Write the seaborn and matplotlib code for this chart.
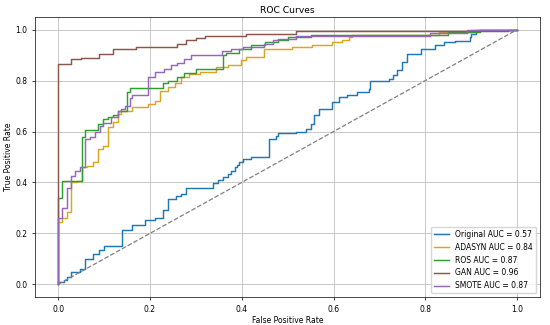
import matplotlib
matplotlib.use("Agg")
import matplotlib.pyplot as plt
import seaborn as sns
import pandas as pd

# ---- data (step ROC corners) ----
orig_fpr = [0, 0, 0.012, 0.019, 0.027, 0.048, 0.059, 0.077, 0.09, 0.10, 0.14, 0.16, 0.19, 0.21,
            0.228, 0.239, 0.257, 0.268, 0.279, 0.337, 0.348, 0.36, 0.37, 0.377, 0.385, 0.39,
            0.395, 0.402, 0.42, 0.46, 0.474, 0.48, 0.518, 0.54, 0.55, 0.557, 0.568, 0.597,
            0.612, 0.63, 0.65, 0.677, 0.68, 0.72, 0.73, 0.738, 0.749, 0.76, 0.79, 0.82, 0.84,
            0.865, 0.897, 0.90, 0.91, 1.0]
orig_tpr = [0, 0.01, 0.015, 0.03, 0.05, 0.06, 0.10, 0.118, 0.135, 0.152, 0.213, 0.232, 0.253, 0.262,
            0.29, 0.335, 0.345, 0.355, 0.38, 0.398, 0.41, 0.42, 0.435, 0.445, 0.46, 0.47,
            0.479, 0.492, 0.50, 0.571, 0.584, 0.595, 0.60, 0.61, 0.63, 0.663, 0.689, 0.715,
            0.735, 0.745, 0.755, 0.768, 0.80, 0.807, 0.82, 0.84, 0.873, 0.906, 0.925, 0.938, 0.951,
            0.955, 0.971, 0.984, 1.0, 1.0]

adasyn_fpr = [0, 0, 0.008, 0.019, 0.027, 0.04, 0.051, 0.062, 0.077, 0.087, 0.098, 0.109, 0.12,
              0.131, 0.138, 0.16, 0.196, 0.21, 0.221, 0.24, 0.255, 0.268, 0.285, 0.31, 0.344,
              0.37, 0.398, 0.41, 0.449, 0.51, 0.554, 0.597, 0.619, 0.633, 0.64, 0.83, 0.90, 1.0]
adasyn_tpr = [0, 0.243, 0.262, 0.282, 0.40, 0.407, 0.459, 0.466, 0.479, 0.531, 0.545, 0.617, 0.636,
              0.669, 0.682, 0.696, 0.709, 0.72, 0.761, 0.775, 0.79, 0.814, 0.825, 0.835, 0.853,
              0.86, 0.879, 0.892, 0.925, 0.932, 0.938, 0.951, 0.958, 0.971, 0.98, 0.99, 1.0, 1.0]

ros_fpr = [0, 0, 0.008, 0.051, 0.059, 0.087, 0.098, 0.109, 0.12, 0.13, 0.149, 0.156, 0.228, 0.24,
           0.26, 0.275, 0.30, 0.359, 0.365, 0.395, 0.42, 0.45, 0.48, 0.50, 0.55, 0.85, 0.92, 1.0]
ros_tpr = [0, 0.337, 0.407, 0.577, 0.604, 0.63, 0.65, 0.655, 0.665, 0.68, 0.757, 0.77, 0.79, 0.80,
           0.815, 0.83, 0.846, 0.90, 0.91, 0.925, 0.94, 0.95, 0.96, 0.97, 0.98, 0.99, 1.0, 1.0]

gan_fpr = [0, 0, 0.027, 0.049, 0.09, 0.119, 0.169, 0.259, 0.279, 0.30, 0.319, 0.41, 0.518, 0.98, 1.0]
gan_tpr = [0, 0.866, 0.883, 0.89, 0.905, 0.922, 0.93, 0.945, 0.958, 0.967, 0.975, 0.984, 0.993, 1.0, 1.0]

smote_fpr = [0, 0, 0.008, 0.019, 0.027, 0.037, 0.048, 0.059, 0.069, 0.08, 0.091, 0.098, 0.115,
             0.13, 0.137, 0.145, 0.156, 0.16, 0.196, 0.21, 0.23, 0.245, 0.26, 0.275, 0.29, 0.351,
             0.357, 0.377, 0.402, 0.449, 0.467, 0.48, 0.518, 0.81, 0.89, 1.0]
smote_tpr = [0, 0.262, 0.30, 0.38, 0.426, 0.446, 0.46, 0.571, 0.58, 0.60, 0.623, 0.635, 0.655,
             0.68, 0.69, 0.70, 0.73, 0.744, 0.814, 0.833, 0.845, 0.86, 0.87, 0.886, 0.899, 0.90,
             0.918, 0.925, 0.932, 0.945, 0.958, 0.965, 0.975, 0.985, 1.0, 1.0]

labels = ["Original AUC = 0.57", "ADASYN AUC = 0.84", "ROS AUC = 0.87",
          "GAN AUC = 0.96", "SMOTE AUC = 0.87"]
colors = ["#1f77b4", "#daa520", "#2ca02c", "#8c564b", "#9467bd"]

series = [(orig_fpr, orig_tpr), (adasyn_fpr, adasyn_tpr), (ros_fpr, ros_tpr),
          (gan_fpr, gan_tpr), (smote_fpr, smote_tpr)]

fig, ax = plt.subplots(figsize=(5.5, 3.25), dpi=100)
fig.subplots_adjust(left=0.064, right=0.982, top=0.948, bottom=0.086)

for (f, t), lab, col in zip(series, labels, colors):
    df = pd.DataFrame({"fpr": f, "tpr": t})
    sns.lineplot(data=df, x="fpr", y="tpr", sort=False, estimator=None,
                 drawstyle="steps-post", color=col, lw=1.05, label=lab, ax=ax)

ax.plot([0, 1], [0, 1], linestyle="--", color="gray", lw=0.9)

ax.set_xlim(-0.05, 1.05)
ax.set_ylim(-0.05, 1.05)
ax.set_xticks([0.0, 0.2, 0.4, 0.6, 0.8, 1.0])
ax.set_yticks([0.0, 0.2, 0.4, 0.6, 0.8, 1.0])
ax.tick_params(labelsize=5.5, width=0.5, length=2)
ax.set_xlabel("False Positive Rate", fontsize=5.5, labelpad=2)
ax.set_ylabel("True Positive Rate", fontsize=5.5, labelpad=2)
ax.set_title("ROC Curves", fontsize=6.6, pad=3)
ax.grid(True, color="#c0c0c0", lw=0.6)
for s in ax.spines.values():
    s.set_linewidth(0.5)
ax.legend(loc="lower right", fontsize=5.5, frameon=True, framealpha=0.8)

fig.savefig("out.png", dpi=100)
